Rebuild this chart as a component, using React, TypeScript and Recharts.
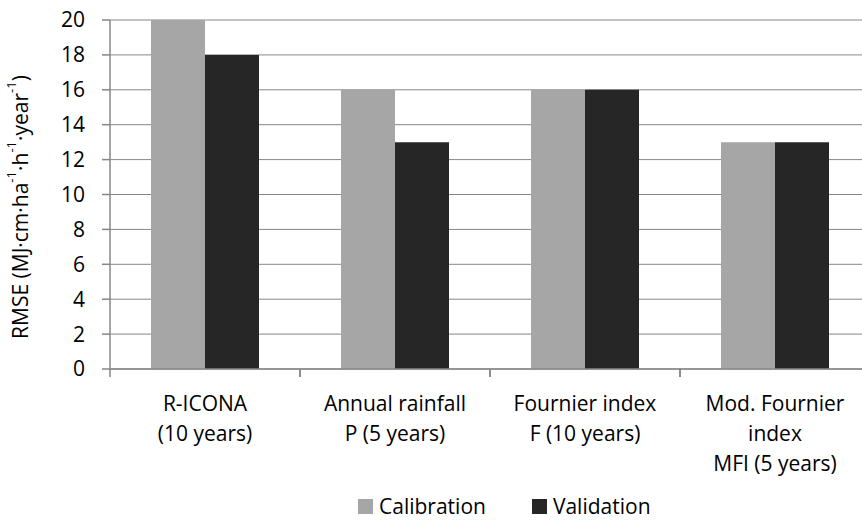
import React from 'react';
import { BarChart, Bar, XAxis, YAxis, CartesianGrid } from 'recharts';

// Category labels (lines separated by \n)
const categories = [
  'R-ICONA\n(10 years)',
  'Annual rainfall\nP (5 years)',
  'Fournier index\nF (10 years)',
  'Mod. Fournier\nindex\nMFI (5 years)',
];
const calibration = [20, 16, 16, 13];
const validation = [18, 13, 16, 13];
const yTicks = [0, 2, 4, 6, 8, 10, 12, 14, 16, 18, 20];

const data = categories.map((name, i) => ({
  name,
  calibration: calibration[i],
  validation: validation[i],
}));

const FONT = '"Open Sans", sans-serif';
const CHART_W = 875;
const CHART_H = 520;
const MARGIN = { top: 20, right: 5, bottom: 0, left: 0 };
const Y_AXIS_W = 110;
const X_AXIS_H = 151;
const BAND = (CHART_W - MARGIN.left - MARGIN.right - Y_AXIS_W) / categories.length;
const AXIS_COLOR = '#878787';

// X tick: multi-line label plus boundary tick marks at the band edges
const CategoryTick = (props: any) => {
  const { x, y, payload } = props;
  const lines = String(payload.value).split('\n');
  return (
    <g>
      <line x1={x - BAND / 2} y1={y} x2={x - BAND / 2} y2={y + 8} stroke={AXIS_COLOR} strokeWidth={1.5} />
      <line x1={x + BAND / 2} y1={y} x2={x + BAND / 2} y2={y + 8} stroke={AXIS_COLOR} strokeWidth={1.5} />
      <text x={x} y={y} textAnchor="middle" fontFamily={FONT} fontSize={21} fill="#000">
        {lines.map((l, i) => (
          <tspan key={i} x={x} y={y + 42 + i * 30}>
            {l}
          </tspan>
        ))}
      </text>
    </g>
  );
};

const YLabel = () => {
  const cx = 20;
  const cy = 207;
  const sup = { baselineShift: 'super', fontSize: 13 } as any;
  return (
    <text
      x={cx}
      y={cy}
      transform={`rotate(-90, ${cx}, ${cy})`}
      textAnchor="middle"
      dominantBaseline="central"
      fontFamily={FONT}
      fontSize={21}
      fill="#000"
    >
      RMSE (MJ·cm·ha<tspan style={sup}>-1</tspan>·h<tspan style={sup}>-1</tspan>·year<tspan style={sup}>-1</tspan>)
    </text>
  );
};

export default function App() {
  return (
    <div style={{ position: 'absolute', left: 0, top: 0, width: 862, height: 520, overflow: 'hidden', background: '#fff' }}>
      <BarChart width={CHART_W} height={CHART_H} data={data} margin={MARGIN} barGap={0}>
        <CartesianGrid vertical={false} stroke={AXIS_COLOR} />
        <XAxis
          dataKey="name"
          interval={0}
          height={X_AXIS_H}
          tickLine={false}
          tickSize={0}
          tickMargin={0}
          axisLine={{ stroke: AXIS_COLOR, strokeWidth: 1.5 }}
          tick={<CategoryTick />}
        />
        <YAxis
          width={Y_AXIS_W}
          domain={[0, 20]}
          ticks={yTicks}
          interval={0}
          tickSize={8}
          tickMargin={17}
          tickLine={{ stroke: AXIS_COLOR, strokeWidth: 1.5 }}
          axisLine={{ stroke: AXIS_COLOR, strokeWidth: 1.5 }}
          tick={{ fontFamily: FONT, fontSize: 21, fill: '#000' }}
          label={{ content: () => <YLabel /> }}
        />
        <Bar dataKey="calibration" name="Calibration" fill="#a6a6a6" barSize={54} isAnimationActive={false} />
        <Bar dataKey="validation" name="Validation" fill="#262626" barSize={54} isAnimationActive={false} />
      </BarChart>
      <div
        style={{
          position: 'absolute',
          left: 358,
          top: 491,
          display: 'flex',
          alignItems: 'center',
          fontFamily: FONT,
          fontSize: 21,
          lineHeight: '30px',
          color: '#000',
          whiteSpace: 'nowrap',
        }}
      >
        <span style={{ display: 'inline-block', width: 15, height: 15, background: '#a6a6a6', marginRight: 6 }} />
        <span style={{ marginRight: 46 }}>Calibration</span>
        <span style={{ display: 'inline-block', width: 15, height: 15, background: '#262626', marginRight: 6 }} />
        <span>Validation</span>
      </div>
    </div>
  );
}
